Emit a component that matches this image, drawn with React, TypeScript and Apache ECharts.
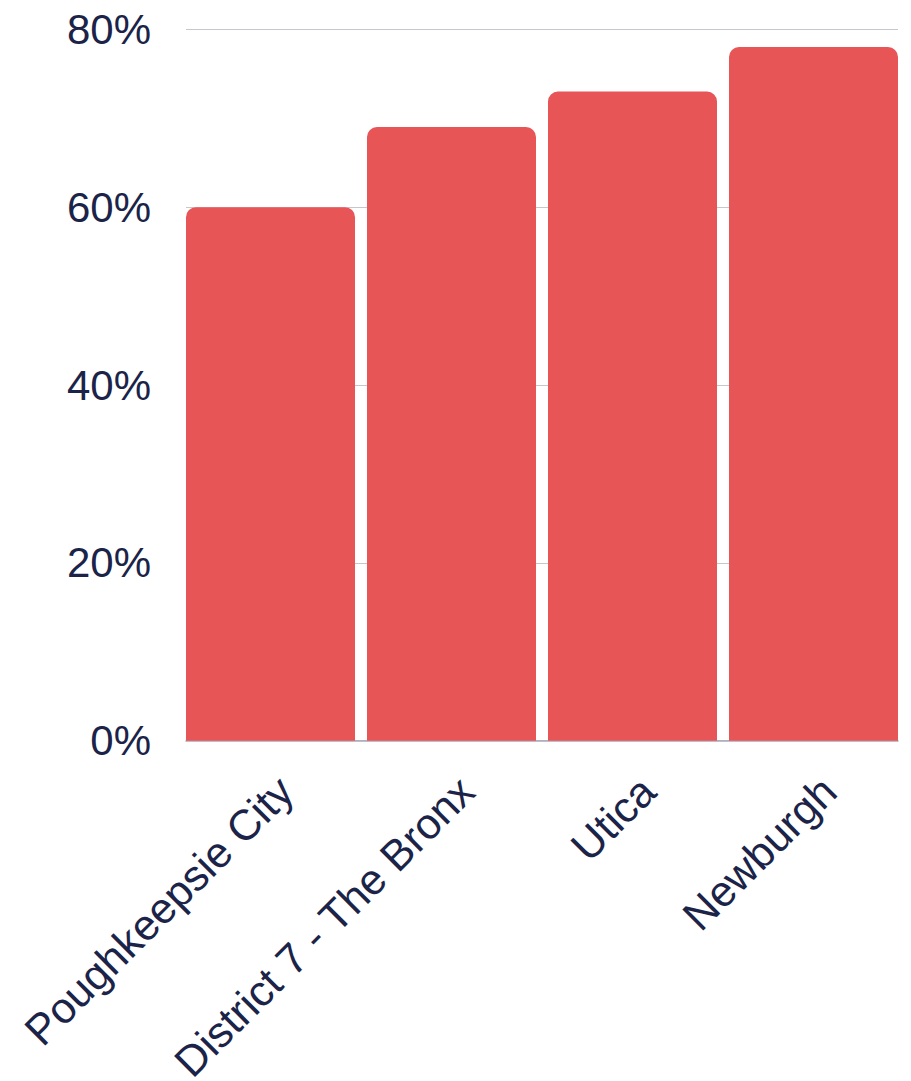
import React, { useEffect, useRef } from "react";
import * as echarts from "echarts";

const categories = ["Poughkeepsie City", "District 7 - The Bronx", "Utica", "Newburgh"];
const values = [60, 69, 73, 78];
const yTicks = { min: 0, max: 80, interval: 20 };

const TEXT = "#1B2448";
const FONT = "Liberation Sans, Arial, sans-serif";

export default function App() {
  const ref = useRef<HTMLDivElement>(null);
  useEffect(() => {
    if (!ref.current) return;
    const chart = echarts.init(ref.current, undefined, { renderer: "svg" });
    chart.setOption({
      animation: false,
      backgroundColor: "#ffffff",
      grid: [
        { left: 180, right: 7, top: 29.3, bottom: 340.3, outerBoundsMode: "none", containLabel: false },
        { left: 186, right: 13, top: 29.3, bottom: 340.3, outerBoundsMode: "none", containLabel: false },
      ],
      xAxis: [
        {
          type: "category",
          gridIndex: 0,
          data: categories,
          axisLine: { show: false },
          axisTick: { show: false },
          axisLabel: {
            interval: 0,
            rotate: 45,
            margin: 28,
            verticalAlign: "top",
            color: TEXT,
            fontSize: 43,
            fontFamily: FONT,
          },
        },
        {
          type: "value",
          gridIndex: 1,
          min: 0,
          max: 1,
          axisLine: { show: true, lineStyle: { color: "#a9a9b6", width: 1.5 } },
          axisTick: { show: false },
          axisLabel: { show: false },
          splitLine: { show: false },
        },
      ],
      yAxis: [
        {
          type: "value",
          gridIndex: 0,
          min: yTicks.min,
          max: yTicks.max,
          interval: yTicks.interval,
          axisLine: { show: false },
          axisTick: { show: false },
          axisLabel: { show: false },
          splitLine: { show: false },
        },
        {
          type: "value",
          gridIndex: 1,
          min: yTicks.min,
          max: yTicks.max,
          interval: yTicks.interval,
          axisLine: { show: false },
          axisTick: { show: false },
          axisLabel: {
            formatter: "{value}%",
            color: TEXT,
            fontSize: 42,
            fontFamily: FONT,
            margin: 35,
          },
          splitLine: { show: true, lineStyle: { color: "#c6c6ce", width: 1 } },
        },
      ],
      series: [
        {
          type: "bar",
          xAxisIndex: 0,
          yAxisIndex: 0,
          data: values,
          barWidth: 169,
          z: 3,
          itemStyle: { color: "#E85557", borderRadius: [10, 10, 0, 0] },
        },
      ],
    });
    return () => chart.dispose();
  }, []);
  return (
    <div
      ref={ref}
      style={{ position: "absolute", left: 0, top: 0, width: 911, height: 1081 }}
    />
  );
}
